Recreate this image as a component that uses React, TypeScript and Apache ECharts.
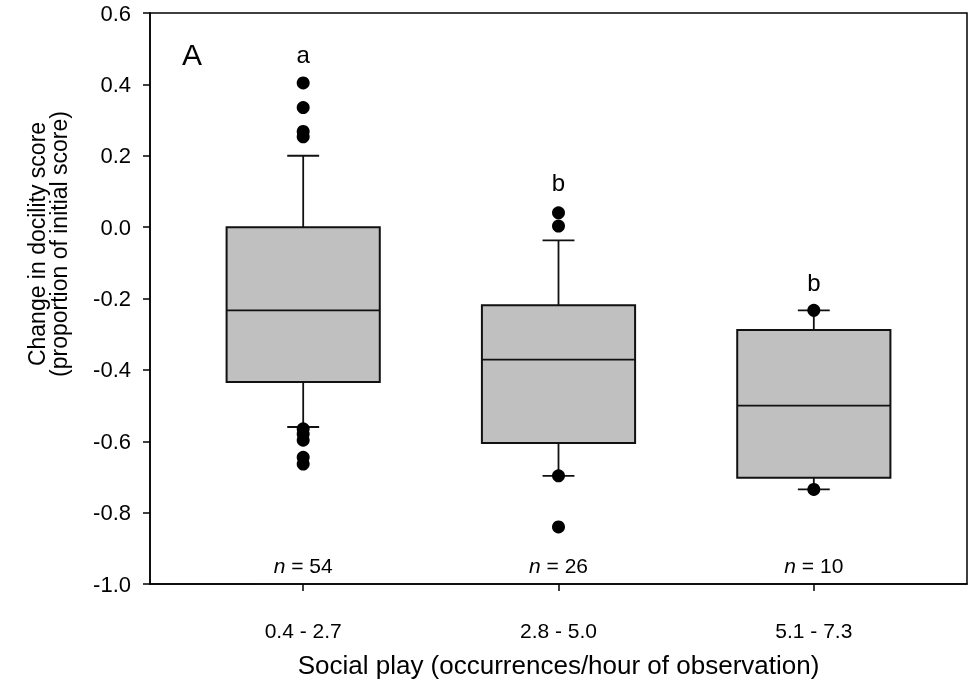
import React, { useEffect, useRef } from 'react';
import * as echarts from 'echarts';

const categories = ['0.4 - 2.7', '2.8 - 5.0', '5.1 - 7.3'];
const positions = [1, 2, 3];
const lowerWhisker = [-0.56, -0.697, -0.735];
const q1 = [-0.434, -0.605, -0.702];
const median = [-0.233, -0.371, -0.5];
const q3 = [0.0, -0.219, -0.288];
const upperWhisker = [0.2, -0.037, -0.233];
const outliers1 = [0.404, 0.335, 0.268, 0.253, -0.565, -0.58, -0.597, -0.645, -0.664];
const outliers2 = [0.04, 0.003, -0.697, -0.84];
const outliers3 = [-0.233, -0.735];
const sampleSizes = [54, 26, 10];
const letters = ['a', 'b', 'b'];
const letterY = [0.485, 0.125, -0.156];
const nLabelY = -0.947;

const FONT = '"Liberation Sans", Arial, sans-serif';

export default function App() {
  const ref = useRef<HTMLDivElement>(null);
  useEffect(() => {
    if (!ref.current) return;
    const chart = echarts.init(ref.current, undefined, { renderer: 'svg' });
    const boxData = positions.map((p, i) => [p, lowerWhisker[i], q1[i], median[i], q3[i], upperWhisker[i]]);
    const outlierData: number[][] = [];
    [outliers1, outliers2, outliers3].forEach((arr, i) => arr.forEach((v) => outlierData.push([positions[i], v])));
    const labelData = positions.map((p, i) => [p, letterY[i], nLabelY, sampleSizes[i], i]);

    const option: any = {
      animation: false,
      grid: { left: 150, right: 12, top: 13, bottom: 101, show: true, borderColor: '#000', borderWidth: 1.5, backgroundColor: 'transparent' },
      xAxis: {
        type: 'value', min: 0.4, max: 3.6,
        splitLine: { show: false },
        axisLine: { show: true, onZero: false, lineStyle: { color: '#000', width: 1.5 } },
        axisTick: { show: true, customValues: positions, length: 7, inside: false, lineStyle: { color: '#000', width: 1.5 } },
        axisLabel: { customValues: positions, formatter: (v: number) => categories[Math.round(v) - 1] ?? '', margin: 36, color: '#000', fontSize: 21, fontFamily: FONT },
        name: 'Social play (occurrences/hour of observation)', nameLocation: 'middle', nameGap: 68,
        nameTextStyle: { color: '#000', fontSize: 26, fontFamily: FONT },
      },
      yAxis: {
        type: 'value', min: -1, max: 0.6, interval: 0.2,
        splitLine: { show: false },
        axisLine: { show: true, lineStyle: { color: '#000', width: 1.5 } },
        axisTick: { show: true, length: 7, inside: false, lineStyle: { color: '#000', width: 1.5 } },
        axisLabel: { formatter: (v: number) => (Math.abs(v) < 1e-9 ? '0.0' : v.toFixed(1)), margin: 19, color: '#000', fontSize: 22, fontFamily: FONT },
      },
      graphic: [
        { type: 'text', x: 192, y: 54, style: { text: 'A', fontSize: 30, fontFamily: FONT, fill: '#000', align: 'center', verticalAlign: 'middle' } },
        { type: 'text', x: 48, y: 244, rotation: Math.PI / 2, style: { text: 'Change in docility score\n(proportion of initial score)', fontSize: 23, lineHeight: 22, fontFamily: FONT, fill: '#000', align: 'center', verticalAlign: 'middle' } },
      ],
      series: [
        {
          type: 'custom', data: boxData, z: 2,
          renderItem: (params: any, api: any) => {
            const x = api.value(0);
            const lo = api.coord([x, api.value(1)]);
            const b1 = api.coord([x, api.value(2)]);
            const md = api.coord([x, api.value(3)]);
            const b3 = api.coord([x, api.value(4)]);
            const hi = api.coord([x, api.value(5)]);
            const halfBox = api.size([0.6, 0])[0] / 2;
            const halfCap = api.size([0.125, 0])[0] / 2;
            const cx = lo[0];
            const ls = { stroke: '#111', lineWidth: 1.8 };
            return {
              type: 'group',
              children: [
                { type: 'line', shape: { x1: cx, y1: b3[1], x2: cx, y2: hi[1] }, style: ls },
                { type: 'line', shape: { x1: cx - halfCap, y1: hi[1], x2: cx + halfCap, y2: hi[1] }, style: ls },
                { type: 'line', shape: { x1: cx, y1: b1[1], x2: cx, y2: lo[1] }, style: ls },
                { type: 'line', shape: { x1: cx - halfCap, y1: lo[1], x2: cx + halfCap, y2: lo[1] }, style: ls },
                { type: 'rect', shape: { x: cx - halfBox, y: b3[1], width: 2 * halfBox, height: b1[1] - b3[1] }, style: { fill: '#c0c0c0', stroke: '#111', lineWidth: 2 } },
                { type: 'line', shape: { x1: cx - halfBox, y1: md[1], x2: cx + halfBox, y2: md[1] }, style: ls },
              ],
            };
          },
        },
        {
          type: 'scatter', data: outlierData, symbol: 'circle', symbolSize: 13, z: 3,
          itemStyle: { color: '#000', opacity: 1 },
        },
        {
          type: 'custom', data: labelData, z: 4,
          renderItem: (params: any, api: any) => {
            const x = api.value(0);
            const pL = api.coord([x, api.value(1)]);
            const pN = api.coord([x, api.value(2)]);
            const idx = api.value(4);
            return {
              type: 'group',
              children: [
                { type: 'text', x: pL[0], y: pL[1], style: { text: letters[idx], fontSize: 24, fontFamily: FONT, fill: '#000', align: 'center', verticalAlign: 'middle' } },
                { type: 'text', x: pN[0], y: pN[1], style: { text: '{i|n} = ' + api.value(3), fontSize: 21, fontFamily: FONT, fill: '#000', align: 'center', verticalAlign: 'middle', rich: { i: { fontStyle: 'italic', fontSize: 21, fontFamily: FONT, fill: '#000' } } } },
              ],
            };
          },
        },
      ],
    };
    chart.setOption(option);
    return () => chart.dispose();
  }, []);
  return <div ref={ref} style={{ position: 'fixed', left: 0, top: 0, width: 979, height: 685 }} />;
}
